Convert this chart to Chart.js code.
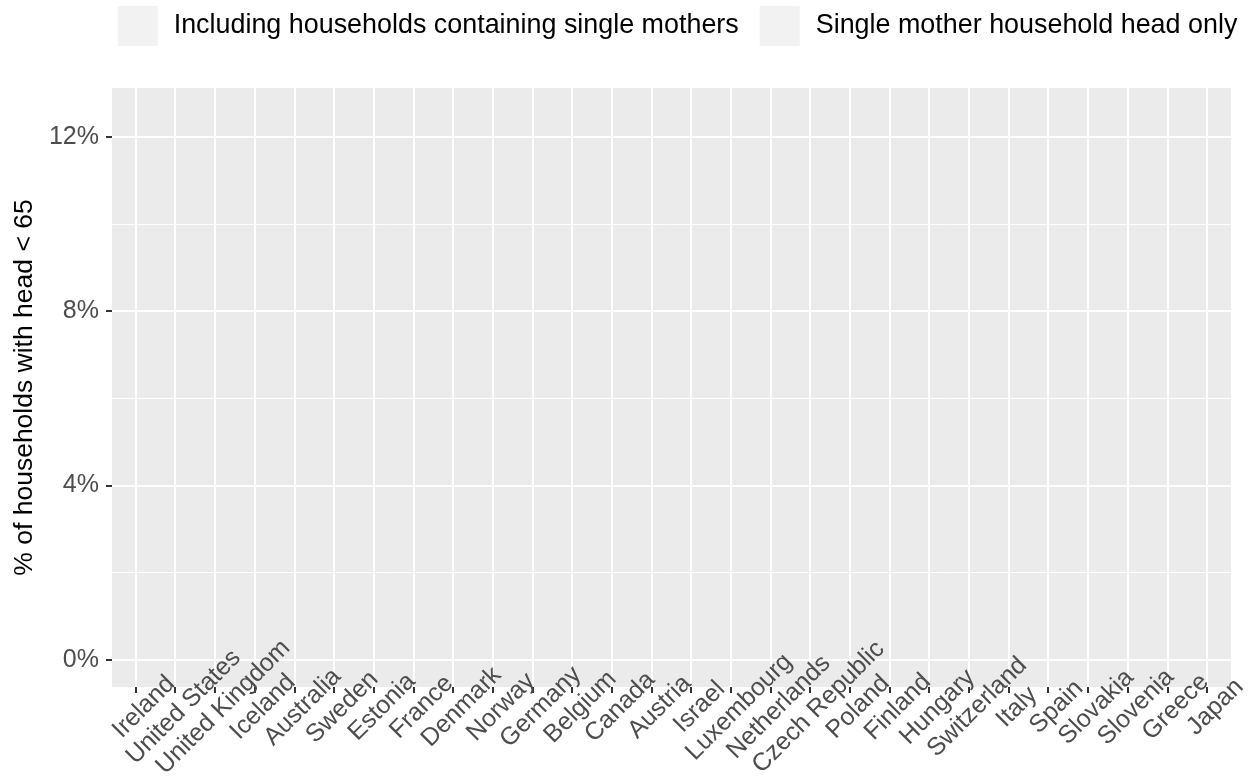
<!DOCTYPE html>
<html lang="en">
<head>
  <meta charset="UTF-8">
  <title>Households with single mothers, head under 65</title>
  <style>
    body { margin: 0; background: #fff; }
    canvas { display: block; }
  </style>
</head>
<body>
  <canvas id="chart" width="1253" height="780"></canvas>

  <script src="https://cdn.jsdelivr.net/npm/chart.js"></script>
  <script>
    const countries = ['Ireland', 'United States', 'United Kingdom', 'Iceland', 'Australia', 'Sweden',
      'Estonia', 'France', 'Denmark', 'Norway', 'Germany', 'Belgium', 'Canada', 'Austria', 'Israel',
      'Luxembourg', 'Netherlands', 'Czech Republic', 'Poland', 'Finland', 'Hungary', 'Switzerland',
      'Italy', 'Spain', 'Slovakia', 'Slovenia', 'Greece', 'Japan'];

    // the figure shows no bars at all, so both series are empty
    const withMothers = [null, null, null, null, null, null, null, null, null, null, null, null, null, null,
      null, null, null, null, null, null, null, null, null, null, null, null, null, null];
    const motherHeadOnly = [null, null, null, null, null, null, null, null, null, null, null, null, null, null,
      null, null, null, null, null, null, null, null, null, null, null, null, null, null];

    const seriesNames = ['Including households containing single mothers', 'Single mother household head only'];
    const yTicks = [0, 2, 4, 6, 8, 10, 12];
    const yLabels = ['0%', '', '4%', '', '8%', '', '12%'];

    const FONT = '"Liberation Sans", Arial, Helvetica, sans-serif';

    // grey panel like ggplot
    const panelBg = {
      id: 'panelBg',
      beforeDraw(chart) {
        const a = chart.chartArea, ctx = chart.ctx;
        ctx.save();
        ctx.fillStyle = '#EBEBEB';
        ctx.fillRect(a.left, a.top, a.right - a.left, a.bottom - a.top);
        ctx.restore();
      }
    };

    // legend with big grey keys on top
    const topLegend = {
      id: 'topLegend',
      afterDraw(chart) {
        const ctx = chart.ctx, a = chart.chartArea;
        const key = 40, gap = 16, between = 21, top = 6;
        ctx.save();
        ctx.font = '26.9px ' + FONT;
        const widths = chart.data.datasets.map(d => ctx.measureText(d.label).width);
        let total = 0;
        widths.forEach((w, i) => { total += key + gap + w + (i ? between : 0); });
        let x = (a.left + a.right) / 2 - total / 2 + 6;
        chart.data.datasets.forEach((d, i) => {
          ctx.fillStyle = '#F2F2F2';
          ctx.fillRect(x, top, key, key);
          ctx.fillStyle = '#000';
          ctx.textBaseline = 'middle';
          ctx.textAlign = 'left';
          ctx.fillText(d.label, x + key + gap, top + key / 2);
          x += key + gap + widths[i] + between;
        });
        ctx.restore();
      }
    };

    // 45 degree country labels, centred on each tick (they may run into the panel,
    // which the built-in label clipping would cut off)
    const xLabels = {
      id: 'xLabels',
      afterDraw(chart) {
        const ctx = chart.ctx, sx = chart.scales.x, base = chart.chartArea.bottom + 25;
        ctx.save();
        ctx.font = '25px ' + FONT;
        ctx.fillStyle = '#4D4D4D';
        ctx.textAlign = 'center';
        ctx.textBaseline = 'alphabetic';
        countries.forEach((c, i) => {
          ctx.save();
          ctx.translate(sx.getPixelForValue(i) + 13, base);
          ctx.rotate(-Math.PI / 4);
          ctx.fillText(c, 0, 0);
          ctx.restore();
        });
        ctx.restore();
      }
    };

    new Chart(document.getElementById('chart'), {
      type: 'bar',
      data: {
        datasets: [
          { label: seriesNames[0], data: countries.map((c, i) => ({ x: i, y: withMothers[i] })),
            backgroundColor: 'rgba(0,0,0,0)' },
          { label: seriesNames[1], data: countries.map((c, i) => ({ x: i, y: motherHeadOnly[i] })),
            backgroundColor: 'rgba(0,0,0,0)' }
        ]
      },
      options: {
        responsive: false,
        animation: false,
        devicePixelRatio: 1,
        layout: { padding: { top: 88, right: 22, left: 0, bottom: 0 } },
        plugins: { legend: { display: false }, tooltip: { enabled: false } },
        scales: {
          x: {
            type: 'linear',
            min: -0.6,
            max: countries.length - 0.4,
            offset: false,
            afterBuildTicks: s => { s.ticks = countries.map((c, i) => ({ value: i })); },
            afterFit: s => { s.height = 93; },
            grid: { offset: false, color: '#FFFFFF', lineWidth: 2, drawTicks: true, tickLength: 6,
                    tickColor: '#333333', tickWidth: 2 },
            border: { display: false },
            ticks: { display: false, autoSkip: false }
          },
          y: {
            min: -0.625,
            max: 13.125,
            afterBuildTicks: s => { s.ticks = yTicks.map(v => ({ value: v })); },
            afterFit: s => { s.width = 112; },
            grid: {
              color: '#FFFFFF',
              lineWidth: c => (c.tick && c.tick.value % 4 === 0 ? 2 : 1),
              drawTicks: true,
              tickLength: 6,
              tickColor: c => (c.tick && c.tick.value % 4 === 0 ? '#333333' : 'rgba(0,0,0,0)'),
              tickWidth: 2
            },
            border: { display: false },
            ticks: {
              padding: 7,
              color: '#4D4D4D',
              font: { family: FONT, size: 25 },
              callback: v => yLabels[yTicks.indexOf(v)]
            },
            title: {
              display: true,
              text: '% of households with head < 65',
              color: '#000000',
              font: { family: FONT, size: 26.5 },
              padding: { top: 9, bottom: 0 }
            }
          }
        }
      },
      plugins: [panelBg, topLegend, xLabels]
    });
  </script>
</body>
</html>
